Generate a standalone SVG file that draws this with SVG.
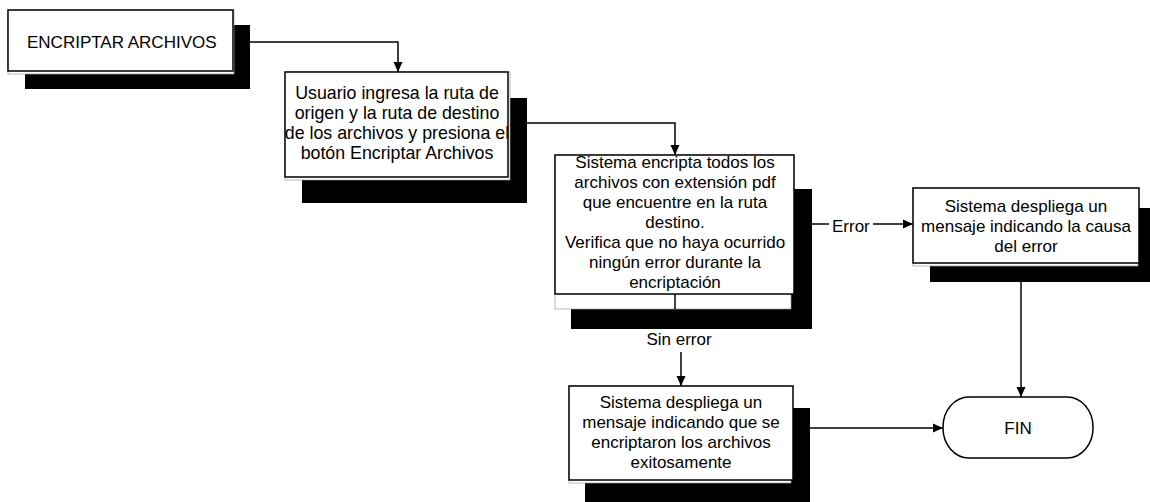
<svg xmlns="http://www.w3.org/2000/svg" width="1150" height="502" viewBox="0 0 1150 502">
<style>
.bg{fill:#ffffff}
.sh{fill:#000000}
.bk{fill:#ffffff;stroke:#9a9a9a;stroke-width:0.7}
.bx{fill:#ffffff;stroke:#000000;stroke-width:1.5}
.t{font-family:"Liberation Sans",Arial,sans-serif;font-size:17px;fill:#000000}
.big{font-size:17.8px}
.c{text-anchor:middle}
.ln{fill:none;stroke:#000000;stroke-width:1.5}
.lb{fill:#ffffff}
</style>
<defs>
<marker id="ah" markerUnits="userSpaceOnUse" markerWidth="11" markerHeight="10" refX="10" refY="5" orient="auto">
<path d="M0,0.5 L10,5 L0,9.5 Z" fill="#000000"/>
</marker>
</defs>
<rect class="bg" x="0" y="0" width="1150" height="502"/>

<g id="n1">
<rect class="sh" x="25" y="25" width="225" height="64"/>
<rect class="bk" x="8" y="10" width="226" height="64"/>
<rect class="bx" x="8" y="10" width="225" height="61"/>
<text class="t" x="27" y="48">ENCRIPTAR ARCHIVOS</text>
</g>

<g id="n2">
<rect class="sh" x="302" y="98" width="225" height="105"/>
<rect class="bk" x="285" y="72" width="225" height="108"/>
<rect class="bx" x="285" y="72" width="223" height="105"/>
<text class="t big c" x="397" y="99">Usuario ingresa la ruta de</text>
<text class="t big c" x="397" y="119">origen y la ruta de destino</text>
<text class="t big c" x="397" y="139">de los archivos y presiona el</text>
<text class="t big c" x="397" y="159">botón Encriptar Archivos</text>
</g>

<g id="n3">
<rect class="sh" x="571" y="189" width="241" height="140"/>
<rect class="bk" x="555" y="155" width="236" height="154"/>
<rect class="bx" x="555" y="155" width="239" height="139"/>
<text class="t c" x="675" y="168">Sistema encripta todos los</text>
<text class="t c" x="675" y="188">archivos con extensión pdf</text>
<text class="t c" x="675" y="208">que encuentre en la ruta</text>
<text class="t c" x="675" y="228">destino.</text>
<text class="t c" x="675" y="248">Verifica que no haya ocurrido</text>
<text class="t c" x="675" y="268">ningún error durante la</text>
<text class="t c" x="675" y="288">encriptación</text>
</g>

<g id="n4">
<rect class="sh" x="930" y="208" width="227" height="74"/>
<rect class="bk" x="913" y="188" width="225" height="78"/>
<rect class="bx" x="913" y="188" width="226" height="75"/>
<text class="t c" x="1026" y="212">Sistema despliega un</text>
<text class="t c" x="1026" y="232">mensaje indicando la causa</text>
<text class="t c" x="1026" y="252">del error</text>
</g>

<g id="n5">
<rect class="sh" x="585" y="408" width="225" height="100"/>
<rect class="bk" x="569" y="386" width="222" height="97"/>
<rect class="bx" x="569" y="386" width="224" height="94"/>
<text class="t c" x="681" y="408">Sistema despliega un</text>
<text class="t c" x="681" y="428">mensaje indicando que se</text>
<text class="t c" x="681" y="448">encriptaron los archivos</text>
<text class="t c" x="681" y="468">exitosamente</text>
</g>

<g id="fin">
<rect class="bx" x="943" y="397" width="150" height="61" rx="26" ry="30"/>
<text class="t c" x="1018" y="434">FIN</text>
</g>

<g id="connectors">
<path class="ln" d="M250,42 H398 V72" marker-end="url(#ah)"/>
<path class="ln" d="M527,123 H675 V155" marker-end="url(#ah)"/>
<path class="ln" d="M812,224 H913" marker-end="url(#ah)"/>
<rect class="lb" x="829" y="215" width="44" height="20"/>
<text class="t" x="832" y="232">Error</text>
<path class="ln" d="M675,294 V309"/>
<rect class="lb" x="644" y="329" width="70" height="21"/>
<text class="t c" x="679" y="345">Sin error</text>
<path class="ln" d="M681,352 V386" marker-end="url(#ah)"/>
<path class="ln" d="M1021,282 V397" marker-end="url(#ah)"/>
<path class="ln" d="M810,428 H943" marker-end="url(#ah)"/>
</g>
</svg>
